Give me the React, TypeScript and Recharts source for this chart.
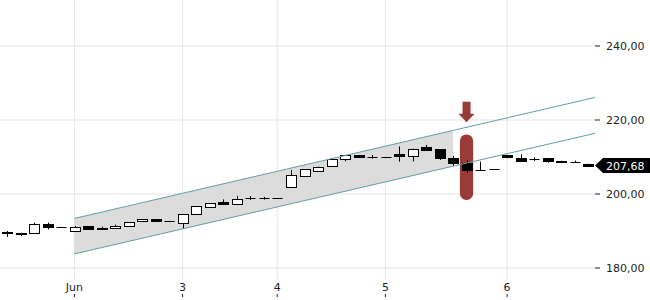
import React from "react"
import {
  ComposedChart,
  Bar,
  Area,
  XAxis,
  YAxis,
  CartesianGrid,
  ReferenceLine,
  ReferenceArea,
  ReferenceDot,
} from "recharts"

// hourly-ish candles, one per slot
const open = [
  189.8, 189.45, 189.4, 191.9, 191.0, 190.1, 191.35, 190.8, 190.75, 191.25, 192.6,
  193.15, 192.7, 192.1, 194.5, 196.4, 197.9, 197.2, 198.85, 198.85, 198.85, 201.8,
  204.85, 206.3, 207.55, 209.45, 210.55, 210.0, 210.0, 210.75, 210.2, 212.7, 212.15,
  209.75, 208.45, 206.5, 206.7, 210.55, 209.65, 209.4, 209.65, 209.0, 208.65, 208.2,
]
const high = [
  190.0, 189.5, 192.25, 192.25, 191.0, 191.35, 191.35, 191.15, 191.7, 192.35, 193.25,
  193.15, 192.7, 194.6, 196.7, 197.5, 198.55, 199.45, 199.45, 199.2, 198.85, 206.5,
  206.7, 207.4, 209.4, 210.55, 210.55, 210.55, 210.0, 212.85, 212.25, 213.25, 212.15,
  210.35, 209.0, 208.75, 206.7, 210.55, 210.75, 209.9, 209.65, 209.0, 209.0, 208.2,
]
const low = [
  188.4, 188.65, 189.4, 190.45, 191.0, 190.1, 190.45, 190.45, 190.75, 191.1, 192.6,
  192.6, 192.7, 190.6, 194.5, 196.4, 197.2, 197.2, 198.4, 198.5, 198.85, 201.8,
  204.85, 205.95, 207.55, 208.85, 209.9, 209.55, 210.0, 208.75, 208.8, 211.6, 209.2,
  207.55, 205.75, 206.5, 206.7, 209.65, 209.0, 208.9, 208.45, 208.65, 208.4, 207.68,
]
const close = [
  189.4, 189.1, 191.9, 191.0, 191.0, 191.0, 190.45, 190.45, 191.35, 192.35, 193.25,
  192.6, 192.7, 194.6, 196.7, 197.5, 197.2, 198.55, 198.85, 198.85, 198.85, 205.15,
  206.7, 207.4, 209.4, 210.55, 209.9, 210.0, 210.0, 210.15, 212.25, 211.9, 209.65,
  208.45, 206.5, 206.5, 206.7, 209.9, 209.0, 209.4, 208.9, 208.65, 208.65, 207.68,
]

const dayTickIdx = [5, 13, 20, 28, 37]
const dayTickLabels = ["Jun", "3", "4", "5", "6"]
const priceTicks = [180, 200, 220, 240]

// trend channel
const channelX = [5, 43.5]
const channelUpper = [193.4, 226.1]
const channelLower = [183.8, 216.4]
// shaded part of the channel
const bandIdx = [5, 33]
const bandUpper = [193.4, 217.2]
const bandLower = [183.8, 207.5]

// signal marker
const signalIdx = 34
const signalLow = 198.4
const signalHigh = 216.1
const arrowTip = 219.4
const lastPrice = 207.68

const rows = open.map((o, i) => ({
  i,
  o,
  h: high[i],
  l: low[i],
  c: close[i],
  range: [low[i], high[i]],
  band:
    i === bandIdx[0]
      ? [bandLower[0], bandUpper[0]]
      : i === bandIdx[1]
      ? [bandLower[1], bandUpper[1]]
      : null,
}))

const fmt = (v: number) => v.toFixed(2).replace(".", ",")
const font = "'DejaVu Sans', sans-serif"

const Candle = (props: any) => {
  const { x, y, width, height, payload } = props
  if (x == null || y == null) return null
  const { o, h, l, c } = payload
  const span = h - l
  const k = span > 0 ? height / span : 0
  const toY = (v: number) => y + (h - v) * k
  const cx = Math.round(x + width / 2) + 0.5
  const left = Math.round(x + width / 2 - 5) + 0.5
  const top = Math.round(toY(Math.max(o, c))) + 0.5
  const bottom = Math.round(toY(Math.min(o, c))) + 0.5
  const wick = (
    <line x1={cx} x2={cx} y1={toY(h)} y2={toY(l)} stroke="#000" strokeWidth={1} />
  )
  if (bottom - top < 1) {
    return (
      <g>
        {wick}
        <line x1={left} x2={left + 10} y1={top} y2={top} stroke="#000" strokeWidth={1} />
      </g>
    )
  }
  return (
    <g>
      {wick}
      <rect
        x={left}
        y={top}
        width={10}
        height={bottom - top}
        fill={c >= o ? "#fff" : "#000"}
        stroke="#000"
        strokeWidth={1}
      />
    </g>
  )
}

const DayTick = (props: any) => {
  const { x, y, payload } = props
  const label = dayTickLabels[dayTickIdx.indexOf(payload.value)]
  return (
    <g transform={`translate(${x},${y})`}>
      <text y={11} textAnchor="middle" fontSize={11} fontFamily={font} fill="#222">
        {label}
      </text>
      <line x1={0} x2={0} y1={14} y2={17} stroke="#222" />
    </g>
  )
}

const Arrow = (props: any) => {
  const { cx, cy } = props
  return (
    <g fill="#993b36">
      <rect x={cx - 4} y={cy - 20.5} width={8} height={12.5} />
      <polygon points={`${cx - 8},${cy - 8.5} ${cx + 8},${cy - 8.5} ${cx},${cy}`} />
    </g>
  )
}

const PriceTag = (props: any) => {
  const { cx, cy } = props
  return (
    <g>
      <polygon
        points={`${cx},${cy} ${cx + 8},${cy - 7.5} ${cx + 60},${cy - 7.5} ${cx + 60},${cy + 7.5} ${cx + 8},${cy + 7.5}`}
        fill="#000"
      />
      <text x={cx + 11} y={cy + 4} fontSize={11} fontFamily={font} fill="#fff">
        {fmt(lastPrice)}
      </text>
    </g>
  )
}

export default function App() {
  return (
    <div style={{ position: "absolute", left: 0, top: 0 }}>
      <ComposedChart
        width={650}
        height={300}
        data={rows}
        margin={{ top: 0, right: 0, bottom: 0, left: 0 }}
      >
        <XAxis
          dataKey="i"
          type="category"
          ticks={dayTickIdx}
          interval={0}
          height={20}
          tickLine={false}
          axisLine={false}
          tickSize={0}
          tickMargin={0}
          tick={<DayTick />}
        />
        <XAxis
          xAxisId="n"
          dataKey="i"
          type="number"
          domain={[-0.5, 43.5]}
          allowDataOverflow
          hide
        />
        <YAxis
          orientation="right"
          width={55}
          domain={[176.76, 252.43]}
          allowDataOverflow
          ticks={priceTicks}
          tickFormatter={fmt}
          axisLine={false}
          tickLine={{ stroke: "#222" }}
          tickSize={5}
          tickMargin={6}
          tick={{ fontSize: 11, fontFamily: font, fill: "#222" }}
        />
        <Area
          dataKey="band"
          stroke="none"
          fill="#dcdcdc"
          fillOpacity={1}
          connectNulls
          dot={false}
          activeDot={false}
          isAnimationActive={false}
        />
        <CartesianGrid stroke="#e2e2e2" strokeOpacity={0.9} syncWithTicks />
        <ReferenceLine
          xAxisId="n"
          segment={[
            { x: channelX[0], y: channelUpper[0] },
            { x: channelX[1], y: channelUpper[1] },
          ]}
          stroke="#5fa0a6"
          strokeWidth={1}
          ifOverflow="visible"
        />
        <ReferenceLine
          xAxisId="n"
          segment={[
            { x: channelX[0], y: channelLower[0] },
            { x: channelX[1], y: channelLower[1] },
          ]}
          stroke="#5fa0a6"
          strokeWidth={1}
          ifOverflow="visible"
        />
        <ReferenceArea
          xAxisId="n"
          x1={signalIdx - 0.49}
          x2={signalIdx + 0.49}
          y1={signalLow}
          y2={signalHigh}
          ifOverflow="visible"
          shape={(p: any) => (
            <rect x={p.x} y={p.y} width={p.width} height={p.height} rx={6.5} fill="#993b36" />
          )}
        />
        <Bar dataKey="range" barSize={10} shape={<Candle />} isAnimationActive={false} />
        <ReferenceDot
          xAxisId="n"
          x={signalIdx}
          y={arrowTip}
          ifOverflow="visible"
          shape={<Arrow />}
        />
        <ReferenceDot
          xAxisId="n"
          x={43.5}
          y={lastPrice}
          ifOverflow="visible"
          shape={<PriceTag />}
        />
      </ComposedChart>
    </div>
  )
}
